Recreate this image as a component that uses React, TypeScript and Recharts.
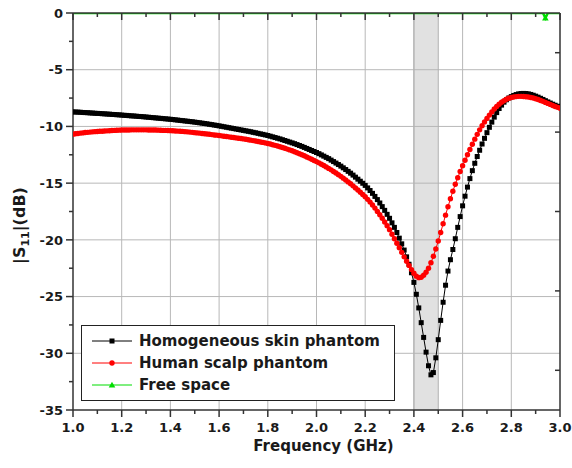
import React from "react";
import {
  LineChart,
  Line,
  XAxis,
  YAxis,
  CartesianGrid,
  ReferenceArea,
  Legend,
} from "recharts";

// frequency sweep: 1.00 .. 3.00 GHz in 10 MHz steps
const SWEEP_START_GHZ = 1.0;
const SWEEP_STEP_GHZ = 0.01;

// |S11| (dB) on the homogeneous skin phantom, one value per sweep step
const skinPhantomDb = [
  -8.72, -8.73, -8.74, -8.75, -8.77, -8.78, -8.79, -8.81, -8.82, -8.84,
  -8.85, -8.86, -8.88, -8.89, -8.91, -8.92, -8.94, -8.95, -8.97, -8.98,
  -9.0, -9.02, -9.03, -9.05, -9.07, -9.08, -9.1, -9.12, -9.13, -9.15,
  -9.17, -9.19, -9.21, -9.23, -9.25, -9.27, -9.29, -9.31, -9.33, -9.35,
  -9.37, -9.39, -9.42, -9.44, -9.47, -9.49, -9.52, -9.54, -9.57, -9.59,
  -9.62, -9.65, -9.68, -9.71, -9.74, -9.77, -9.81, -9.84, -9.88, -9.91,
  -9.95, -9.99, -10.03, -10.07, -10.11, -10.15, -10.19, -10.23, -10.27, -10.31,
  -10.35, -10.39, -10.43, -10.47, -10.52, -10.56, -10.61, -10.66, -10.7, -10.75,
  -10.8, -10.86, -10.92, -10.98, -11.04, -11.1, -11.17, -11.24, -11.31, -11.38,
  -11.45, -11.52, -11.6, -11.68, -11.76, -11.85, -11.94, -12.03, -12.12, -12.21,
  -12.3, -12.4, -12.51, -12.62, -12.73, -12.84, -12.97, -13.1, -13.23, -13.36,
  -13.5, -13.65, -13.8, -13.96, -14.12, -14.29, -14.47, -14.65, -14.83, -15.01,
  -15.2, -15.42, -15.65, -15.9, -16.17, -16.45, -16.75, -17.07, -17.4, -17.75,
  -18.1, -18.5, -18.9, -19.35, -19.85, -20.35, -20.9, -21.5, -22.15, -22.9,
  -23.75, -24.8, -26.0, -27.3, -28.6, -29.9, -31.1, -31.9, -31.7, -30.4,
  -28.8, -27.1, -25.5, -24.0, -22.75, -21.75, -20.85, -19.9, -18.9, -17.95,
  -17.0, -16.15, -15.35, -14.6, -13.9, -13.25, -12.65, -12.1, -11.55, -11.05,
  -10.55, -10.08, -9.62, -9.18, -8.78, -8.42, -8.12, -7.86, -7.65, -7.49,
  -7.37, -7.27, -7.19, -7.13, -7.1, -7.09, -7.1, -7.13, -7.18, -7.25,
  -7.33, -7.42, -7.52, -7.62, -7.73, -7.84, -7.94, -8.04, -8.13, -8.22,
  -8.3,
];

// |S11| (dB) on the human scalp phantom, same sweep
const scalpPhantomDb = [
  -10.68, -10.65, -10.62, -10.59, -10.57, -10.54, -10.52, -10.5, -10.48, -10.46,
  -10.45, -10.43, -10.42, -10.4, -10.39, -10.38, -10.36, -10.35, -10.34, -10.33,
  -10.32, -10.32, -10.31, -10.31, -10.3, -10.3, -10.3, -10.3, -10.3, -10.3,
  -10.3, -10.31, -10.31, -10.32, -10.32, -10.33, -10.34, -10.35, -10.35, -10.36,
  -10.37, -10.38, -10.4, -10.41, -10.43, -10.44, -10.46, -10.48, -10.5, -10.52,
  -10.55, -10.57, -10.59, -10.62, -10.64, -10.67, -10.69, -10.72, -10.75, -10.77,
  -10.8, -10.83, -10.86, -10.89, -10.92, -10.95, -10.98, -11.01, -11.04, -11.07,
  -11.1, -11.13, -11.17, -11.21, -11.25, -11.29, -11.33, -11.37, -11.41, -11.45,
  -11.5, -11.55, -11.61, -11.67, -11.73, -11.79, -11.86, -11.93, -12.0, -12.07,
  -12.15, -12.23, -12.32, -12.41, -12.5, -12.59, -12.69, -12.79, -12.89, -13.0,
  -13.1, -13.21, -13.33, -13.45, -13.57, -13.7, -13.83, -13.97, -14.11, -14.25,
  -14.4, -14.56, -14.72, -14.89, -15.06, -15.24, -15.42, -15.61, -15.8, -16.0,
  -16.2, -16.43, -16.67, -16.93, -17.2, -17.49, -17.79, -18.1, -18.42, -18.76,
  -19.1, -19.5, -19.9, -20.3, -20.7, -21.1, -21.5, -21.88, -22.25, -22.62,
  -22.95, -23.2, -23.33, -23.3, -23.12, -22.85, -22.5, -22.02, -21.45, -20.8,
  -20.1, -19.35, -18.58, -17.82, -17.08, -16.38, -15.72, -15.1, -14.52, -13.98,
  -13.47, -12.98, -12.5, -12.03, -11.57, -11.12, -10.7, -10.3, -9.94, -9.6,
  -9.29, -9.0, -8.72, -8.47, -8.24, -8.04, -7.87, -7.73, -7.61, -7.52,
  -7.45, -7.4, -7.37, -7.35, -7.35, -7.36, -7.38, -7.41, -7.45, -7.5,
  -7.56, -7.63, -7.71, -7.79, -7.88, -7.97, -8.06, -8.15, -8.24, -8.32,
  -8.4,
];

// free space: flat at 0 dB
const freeSpaceGhz = [1.0, 1.5, 2.0, 2.5, 2.93, 2.94, 2.95, 3.0];
const freeSpaceDb = [0, 0, 0, 0, 0, -0.45, 0, 0];

const seriesNames = {
  skin: "Homogeneous skin phantom",
  scalp: "Human scalp phantom",
  free: "Free space",
};
const legendOrder = ["skin", "scalp", "free"];

const freqTicks = [
  1.0, 1.1, 1.2, 1.3, 1.4, 1.5, 1.6, 1.7, 1.8, 1.9, 2.0,
  2.1, 2.2, 2.3, 2.4, 2.5, 2.6, 2.7, 2.8, 2.9, 3.0,
];
const freqLabels = [1.0, 1.2, 1.4, 1.6, 1.8, 2.0, 2.2, 2.4, 2.6, 2.8, 3.0];
const dbTicks = [
  0, -2.5, -5, -7.5, -10, -12.5, -15, -17.5, -20,
  -22.5, -25, -27.5, -30, -32.5, -35,
];
const dbLabels = [0, -5, -10, -15, -20, -25, -30, -35];
const rightDbTicks = [-3.5, -10.5, -17.5, -24.5, -31.5];
const gridFreqs = [1.2, 1.4, 1.6, 1.8, 2.0, 2.2, 2.4, 2.6, 2.8];
const gridDbs = [-5, -10, -15, -20, -25, -30];
const ismBand = [2.4, 2.5];

const sweepRows = skinPhantomDb.map((skin, i) => ({
  freq: Math.round((SWEEP_START_GHZ + i * SWEEP_STEP_GHZ) * 100) / 100,
  skin,
  scalp: scalpPhantomDb[i],
}));

const freeSpaceRows = freeSpaceGhz.map((freq, i) => ({
  freq,
  free: freeSpaceDb[i],
}));

const FONT = "'DejaVu Sans', sans-serif";
const AXIS_COLOR = "#333";
const TEXT_COLOR = "#1a1a1a";
const GREEN = "#00dd00";
const GRID_COLOR = "#b8b8b8";

const isOneOf = (v: number, list: number[]) =>
  list.some((m) => Math.abs(m - v) < 1e-6);

function BottomTick(props: any) {
  const { x, y, payload } = props;
  const major = isOneOf(payload.value, freqLabels);
  return (
    <g>
      <line x1={x} x2={x} y1={y} y2={y + (major ? 7 : 4)} stroke={AXIS_COLOR} strokeWidth={1.5} />
      {major && (
        <text
          x={x}
          y={y + 13}
          dy="0.71em"
          textAnchor="middle"
          fontFamily={FONT}
          fontWeight={700}
          fontSize={13}
          fill={TEXT_COLOR}
        >
          {payload.value.toFixed(1)}
        </text>
      )}
    </g>
  );
}

function TopTick(props: any) {
  const { x, y, payload } = props;
  const major = isOneOf(payload.value, freqLabels);
  return <line x1={x} x2={x} y1={y} y2={y + (major ? 7 : 4)} stroke={AXIS_COLOR} strokeWidth={1.5} />;
}

function LeftTick(props: any) {
  const { x, y, payload } = props;
  const major = isOneOf(payload.value, dbLabels);
  return (
    <g>
      <line x1={x - (major ? 7 : 4)} x2={x} y1={y} y2={y} stroke={AXIS_COLOR} strokeWidth={1.5} />
      {major && (
        <text
          x={x - 10}
          y={y}
          dy="0.36em"
          textAnchor="end"
          fontFamily={FONT}
          fontWeight={700}
          fontSize={13}
          fill={TEXT_COLOR}
        >
          {payload.value}
        </text>
      )}
    </g>
  );
}

function RightTick(props: any) {
  const { x, y } = props;
  return <line x1={x - 5} x2={x} y1={y} y2={y} stroke={AXIS_COLOR} strokeWidth={1.5} />;
}

function FreqTitle(props: any) {
  const { x, y, width } = props.viewBox;
  return (
    <text
      x={x + width / 2 + 7}
      y={y + 41}
      textAnchor="middle"
      fontFamily={FONT}
      fontWeight={700}
      fontSize={15}
      fill={TEXT_COLOR}
    >
      Frequency (GHz)
    </text>
  );
}

function DbTitle(props: any) {
  const { x, y, height } = props.viewBox;
  const cx = x + 12;
  const cy = y + height / 2 + 14;
  return (
    <text
      x={cx}
      y={cy}
      transform={`rotate(-90, ${cx}, ${cy})`}
      textAnchor="middle"
      fontFamily={FONT}
      fontWeight={700}
      fontSize={16}
      fill={TEXT_COLOR}
    >
      |S
      <tspan dy={4} fontSize={11}>
        11
      </tspan>
      <tspan dy={-4}>|(dB)</tspan>
    </text>
  );
}

function marker(key: string, cx: number, cy: number, k?: string | number) {
  if (key === "skin") {
    return <rect key={k} x={cx - 2.5} y={cy - 2.5} width={5} height={5} fill="#000" />;
  }
  if (key === "scalp") {
    return <circle key={k} cx={cx} cy={cy} r={2.7} fill="#ff0000" />;
  }
  return (
    <path
      key={k}
      d={`M${cx},${cy - 3.3}L${cx + 3.3},${cy + 2.5}L${cx - 3.3},${cy + 2.5}Z`}
      fill={GREEN}
    />
  );
}

const skinDot = (p: any) => marker("skin", p.cx, p.cy, `skin-${p.index}`);
const scalpDot = (p: any) => marker("scalp", p.cx, p.cy, `scalp-${p.index}`);
const freeDot = (p: any) =>
  p.payload.free < 0 ? marker("free", p.cx, p.cy, `free-${p.index}`) : <g key={`free-${p.index}`} />;

function LegendBox(props: any) {
  const payload = [...(props.payload ?? [])].sort(
    (a: any, b: any) => legendOrder.indexOf(a.dataKey) - legendOrder.indexOf(b.dataKey)
  );
  return (
    <div
      style={{
        width: 314,
        height: 76,
        boxSizing: "border-box",
        border: "1.5px solid #222",
        background: "#fff",
        paddingTop: 4,
        fontFamily: FONT,
        fontWeight: 700,
        fontSize: 15,
        color: TEXT_COLOR,
      }}
    >
      {payload.map((entry: any) => (
        <div
          key={entry.dataKey}
          style={{ display: "flex", alignItems: "center", height: 22, paddingLeft: 10 }}
        >
          <svg width={40} height={10} style={{ marginRight: 7, flex: "none" }}>
            <line x1={0} x2={40} y1={5} y2={5} stroke={entry.color} strokeWidth={1} />
            {marker(entry.dataKey, 20, 5)}
          </svg>
          <span style={{ whiteSpace: "nowrap" }}>{entry.value}</span>
        </div>
      ))}
    </div>
  );
}

export default function App() {
  return (
    <div style={{ position: "absolute", left: 0, top: 0, width: 572, height: 468, background: "#fff" }}>
      <LineChart
        width={572}
        height={468}
        data={sweepRows}
        margin={{ top: 12, right: 11, bottom: 0, left: 13 }}
      >
        {/* bottom and left axes keep the default ids so the grid follows them */}
        <CartesianGrid
          stroke={GRID_COLOR}
          strokeWidth={1}
          verticalValues={gridFreqs}
          horizontalValues={gridDbs}
        />
        <XAxis
          dataKey="freq"
          type="number"
          domain={[1, 3]}
          allowDataOverflow
          ticks={freqTicks}
          interval={0}
          tickSize={0}
          tickMargin={0}
          tickLine={false}
          tick={<BottomTick />}
          axisLine={{ stroke: AXIS_COLOR, strokeWidth: 1.5 }}
          height={58}
          label={{ content: FreqTitle }}
        />
        <XAxis
          xAxisId="top"
          orientation="top"
          dataKey="freq"
          type="number"
          domain={[1, 3]}
          allowDataOverflow
          ticks={freqTicks}
          interval={0}
          tickSize={0}
          tickMargin={0}
          tickLine={false}
          tick={<TopTick />}
          axisLine={{ stroke: AXIS_COLOR, strokeWidth: 1.5 }}
          height={1}
        />
        <YAxis
          type="number"
          domain={[-35, 0]}
          allowDataOverflow
          ticks={dbTicks}
          interval={0}
          tickSize={0}
          tickMargin={0}
          tickLine={false}
          tick={<LeftTick />}
          axisLine={{ stroke: AXIS_COLOR, strokeWidth: 1.5 }}
          width={60}
          label={{ content: DbTitle }}
        />
        <YAxis
          yAxisId="right"
          orientation="right"
          type="number"
          domain={[-35, 0]}
          allowDataOverflow
          ticks={rightDbTicks}
          interval={0}
          tickSize={0}
          tickMargin={0}
          tickLine={false}
          tick={<RightTick />}
          axisLine={{ stroke: AXIS_COLOR, strokeWidth: 1.5 }}
          width={1}
        />

        <ReferenceArea
          x1={ismBand[0]}
          x2={ismBand[1]}
          fill="#b4b4b4"
          fillOpacity={0.4}
          stroke="#b0b0b0"
          strokeWidth={1}
        />

        <Line
          dataKey="skin"
          name={seriesNames.skin}
          stroke="#000"
          strokeWidth={1}
          dot={skinDot}
          activeDot={false}
          isAnimationActive={false}
        />
        <Line
          dataKey="scalp"
          name={seriesNames.scalp}
          stroke="#ff0000"
          strokeWidth={1}
          dot={scalpDot}
          activeDot={false}
          isAnimationActive={false}
        />
        <Line
          data={freeSpaceRows}
          dataKey="free"
          name={seriesNames.free}
          stroke={GREEN}
          strokeWidth={2.5}
          dot={freeDot}
          activeDot={false}
          isAnimationActive={false}
        />

        <Legend
          layout="vertical"
          align="center"
          verticalAlign="middle"
          wrapperStyle={{ left: 81, top: 325, width: 314, height: 76 }}
          content={LegendBox}
        />
      </LineChart>
    </div>
  );
}
